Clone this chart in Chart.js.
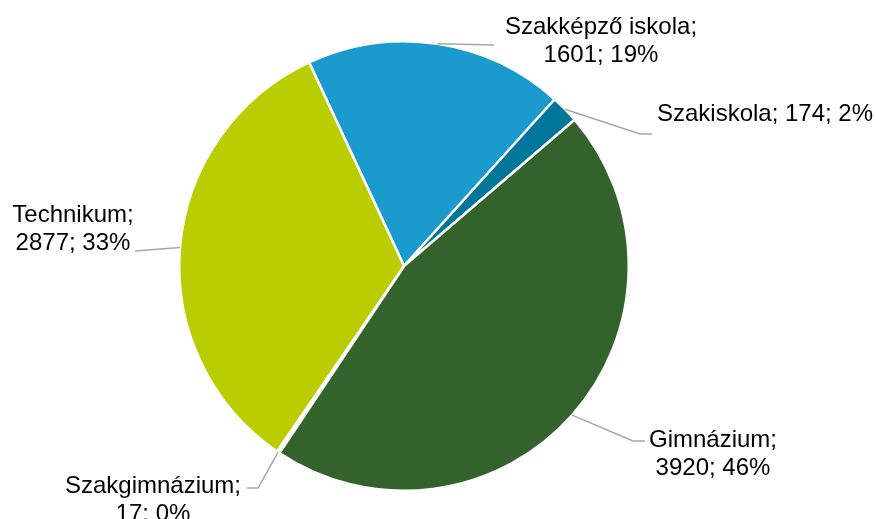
<!DOCTYPE html>
<html>
<head>
<meta charset="utf-8">
<script src="https://cdn.jsdelivr.net/npm/chart.js@4/dist/chart.umd.min.js"></script>
<style>
  html, body { margin: 0; padding: 0; background: #fff; }
  #wrap { width: 876px; height: 519px; }
</style>
</head>
<body>
<div id="wrap"><canvas id="chart" width="876" height="519"></canvas></div>
<script>
// data, in drawing order (clockwise from the first slice)
const categories = ['Szakképző iskola', 'Szakiskola', 'Gimnázium', 'Szakgimnázium', 'Technikum']
const values = [1601, 174, 3920, 17, 2877]
const colors = ['#1b9bcd', '#00769b', '#33622c', '#ffffff', '#b9cd00']

// where each data label sits (text centre x, first baseline y) and the elbow of its leader line
const labelLayout = [
  { x: 601, y: 34, wrap: true, path: [[494, 45]] },
  { x: 765, y: 121, wrap: false, path: [[640, 134], [652, 134]] },
  { x: 713, y: 447, wrap: true, path: [[633, 441], [645, 441]] },
  { x: 153, y: 493, wrap: true, path: [[258, 488], [247, 488]] },
  { x: 73, y: 222, wrap: true, path: [[135, 251]] }
]

const total = values.reduce((a, b) => a + b, 0)

const labelPlugin = {
  id: 'outsideLabels',
  afterDatasetsDraw (chart) {
    const { ctx } = chart
    const meta = chart.getDatasetMeta(0)
    ctx.save()
    meta.data.forEach((arc, i) => {
      const layout = labelLayout[i]
      const mid = (arc.startAngle + arc.endAngle) / 2
      const sx = arc.x + Math.cos(mid) * arc.outerRadius
      const sy = arc.y + Math.sin(mid) * arc.outerRadius

      ctx.strokeStyle = '#a6a6a6'
      ctx.lineWidth = 1.5
      ctx.beginPath()
      ctx.moveTo(sx, sy)
      layout.path.forEach(([px, py]) => ctx.lineTo(px, py))
      ctx.stroke()

      const pct = Math.round((values[i] / total) * 100)
      const lines = layout.wrap
        ? [`${categories[i]};`, `${values[i]}; ${pct}%`]
        : [`${categories[i]}; ${values[i]}; ${pct}%`]
      ctx.fillStyle = '#000'
      ctx.font = '24px Arial, "Liberation Sans", sans-serif'
      ctx.textAlign = 'center'
      ctx.textBaseline = 'alphabetic'
      lines.forEach((line, j) => ctx.fillText(line, layout.x, layout.y + j * 28))
    })
    ctx.restore()
  }
}

new Chart(document.getElementById('chart'), {
  type: 'pie',
  data: {
    labels: categories,
    datasets: [{
      data: values,
      backgroundColor: colors,
      borderColor: '#ffffff',
      borderWidth: 2.5
    }]
  },
  options: {
    responsive: false,
    animation: false,
    rotation: -25,
    layout: {
      padding: { top: 40, bottom: 27, left: 178, right: 246 }
    },
    plugins: {
      legend: { display: false },
      tooltip: { enabled: false }
    }
  },
  plugins: [labelPlugin]
})
</script>
</body>
</html>
